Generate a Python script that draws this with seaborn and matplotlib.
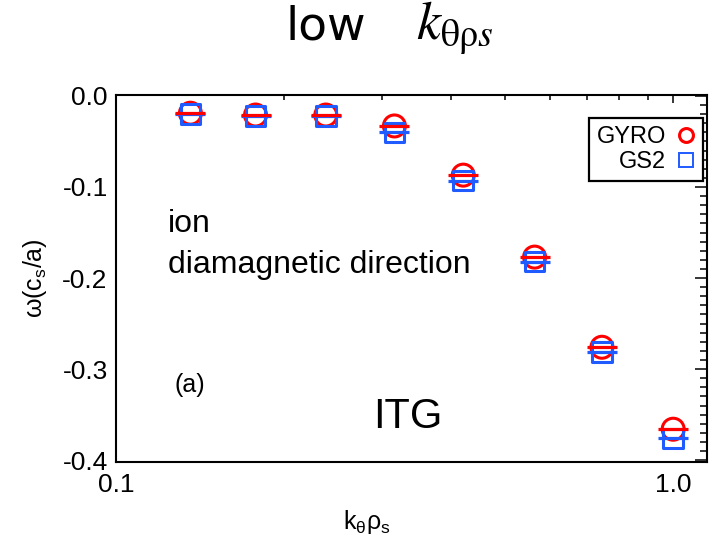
import matplotlib
matplotlib.use("Agg")
import matplotlib.pyplot as plt
import pandas as pd
import seaborn as sns
from matplotlib.lines import Line2D
from matplotlib.ticker import FixedLocator, FixedFormatter, MultipleLocator, NullFormatter

# ---------------- data ----------------
k_theta_rho_s = [0.136, 0.178, 0.238, 0.316, 0.42, 0.564, 0.745, 1.0]
omega_gyro = [-0.019, -0.021, -0.021, -0.033, -0.087, -0.177, -0.276, -0.366]
omega_gs2 = [-0.020, -0.022, -0.022, -0.040, -0.093, -0.182, -0.281, -0.376]
codes = ["GYRO", "GS2"]

x_ticks = [0.1, 1.0]
x_tick_labels = ["0.1", "1.0"]
x_minor_ticks = [0.2, 0.3, 0.4, 0.5, 0.6, 0.7, 0.8, 0.9]
y_ticks = [0.0, -0.1, -0.2, -0.3, -0.4]
y_tick_labels = ["0.0", "-0.1", "-0.2", "-0.3", "-0.4"]

df = pd.DataFrame({
    "k": k_theta_rho_s * 2,
    "omega": omega_gyro + omega_gs2,
    "code": [codes[0]] * len(omega_gyro) + [codes[1]] * len(omega_gs2),
})

# ---------------- style ----------------
sns.set_style("white")
plt.rcParams["font.family"] = ["Liberation Sans", "DejaVu Sans"]
plt.rcParams["axes.unicode_minus"] = False
for key in ["text.color", "axes.labelcolor", "xtick.color", "ytick.color"]:
    plt.rcParams[key] = "black"

RED = "#ff0000"
BLUE = "#1f5bff"
colors = {"GYRO": RED, "GS2": BLUE}
markers = {"GYRO": "o", "GS2": "s"}
sizes = {"GYRO": 250, "GS2": 200}

fig = plt.figure(figsize=(7.15, 5.40), dpi=100)
ax = fig.add_axes([116 / 715, 1 - 462 / 540, (707 - 116) / 715, (462 - 95) / 540])

# symbols first, then the horizontal value bars on top
for c in codes:
    sub = df[df["code"] == c]
    sns.scatterplot(data=sub, x="k", y="omega", ax=ax, marker=markers[c], s=sizes[c],
                    color=colors[c], facecolor="none", edgecolor=colors[c],
                    linewidth=2.2, legend=False, zorder=3)
for c in ["GS2", "GYRO"]:
    sub = df[df["code"] == c]
    sns.scatterplot(data=sub, x="k", y="omega", ax=ax, marker="_", s=470,
                    color=colors[c], linewidth=2.3, legend=False, zorder=4)

ax.set_xscale("log")
ax.set_xlim(0.1, 1.15)
ax.set_ylim(-0.402, 0.001)

ax.xaxis.set_major_locator(FixedLocator(x_ticks))
ax.xaxis.set_major_formatter(FixedFormatter(x_tick_labels))
ax.xaxis.set_minor_locator(FixedLocator(x_minor_ticks))
ax.xaxis.set_minor_formatter(NullFormatter())
ax.yaxis.set_major_locator(FixedLocator(y_ticks))
ax.yaxis.set_major_formatter(FixedFormatter(y_tick_labels))
ax.yaxis.set_minor_locator(MultipleLocator(0.01))

for s in ax.spines.values():
    s.set_visible(True)
    s.set_color("black")
    s.set_linewidth(1.5)

ax.tick_params(axis="both", which="both", direction="in", top=True, right=True,
               color="black", labelcolor="black", width=1.1, labelsize=19)
ax.tick_params(axis="y", which="major", length=9, pad=6)
ax.tick_params(axis="y", which="minor", length=5)
ax.tick_params(axis="x", which="major", length=6, pad=8)
ax.tick_params(axis="x", which="minor", length=3.5)

ax.set_xlabel(r"k$_\mathregular{θ}$ρ$_\mathregular{s}$", fontsize=18, color="black")
ax.xaxis.set_label_coords((367 - 116) / 591, (462 - 508) / 367)
ax.set_ylabel(r"ω(c$_\mathregular{s}$/a)", fontsize=18, color="black")
ax.yaxis.set_label_coords((49 - 116) / 591, 0.5)

# annotations
ax.text((168 - 116) / 591, (462 - 232) / 367, "ion", transform=ax.transAxes,
        fontsize=23, ha="left", va="baseline", color="black")
ax.text((168 - 116) / 591, (462 - 273) / 367, "diamagnetic direction",
        transform=ax.transAxes, fontsize=23, ha="left", va="baseline", color="black")
ax.text((190 - 116) / 591, (462 - 385) / 367, "(a)", transform=ax.transAxes,
        fontsize=18, ha="center", va="center", color="black")
ax.text((408 - 116) / 591, (462 - 428) / 367, "ITG", transform=ax.transAxes,
        fontsize=30, ha="center", va="baseline", color="black")

# title: sans "low" followed by the serif k_θρs
fig.text(285 / 715, 1 - 39 / 540, "low", fontsize=34, ha="left", va="baseline",
         family=["DejaVu Sans"], color="black")
fig.text(416 / 715, 1 - 39 / 540, r"$k_{\mathrm{\theta\rho}s}$", fontsize=39,
         ha="left", va="baseline", math_fontfamily="stix", color="black")

# legend (labels to the left of the symbols)
handles = [
    Line2D([], [], ls="", marker="o", mfc="none", mec=RED, mew=2.2, ms=10),
    Line2D([], [], ls="", marker="s", mfc="none", mec=BLUE, mew=1.4, ms=10),
]
leg = ax.legend(handles, codes, loc="upper right", markerfirst=False,
                bbox_to_anchor=(703 / 715, 1 - 118 / 540), bbox_transform=fig.transFigure,
                borderaxespad=0, fontsize=17, frameon=True, fancybox=False,
                framealpha=1, edgecolor="black", handlelength=0.7,
                handletextpad=0.5, labelspacing=0.12, borderpad=0.35)
leg.get_frame().set_linewidth(1.6)
for t in leg.get_texts():
    t.set_color("black")

fig.savefig("out.png", dpi=100)
